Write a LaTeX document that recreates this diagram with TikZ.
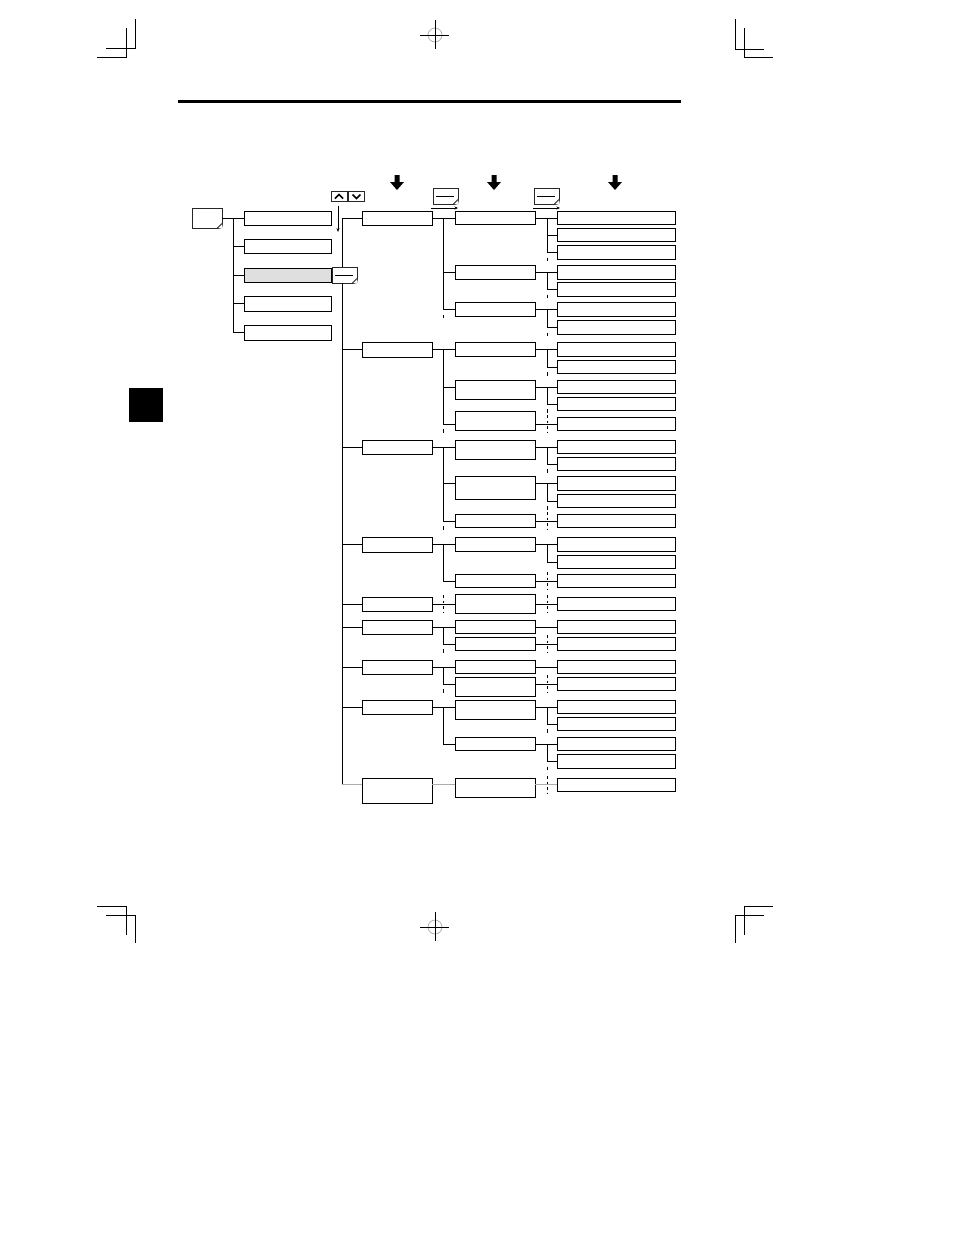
\documentclass[tikz,border=0pt]{standalone}
\usetikzlibrary{calc,arrows.meta}
\tikzset{
 bx/.style={draw, line width=1pt, fill=white, inner sep=0pt, outer sep=0pt},
 ln/.style={line width=1pt},
 tickln/.style={line width=1pt},
 keybox/.style={draw=black!85, line width=0.9pt, fill=white, inner sep=0pt, outer sep=0pt},
 crop/.style={line width=1pt},
}
\newcommand\Lbox[4][]{\node[bx,#1,minimum width=87pt,minimum height={#4pt-#3pt}] (#2) at (287.5,{(#3+#4)/2}) {};}
\newcommand\Abox[3]{\node[bx,minimum width=70pt,minimum height={#3pt-#2pt}] (#1) at (397,{(#2+#3)/2}) {};}
\newcommand\Bbox[3]{\node[bx,minimum width=80pt,minimum height={#3pt-#2pt-0.6pt}] (#1) at (495,{(#2+#3)/2}) {};}
\newcommand\Cbox[3]{\node[bx,minimum width=118pt,minimum height={#3pt-#2pt-1pt}] (#1) at (616,{(#2+#3)/2}) {};}
\newcommand\st[2]{\draw[ln] (#1) -- (#1 -| #2);}
\newcommand\br[3]{\draw[ln] (#1) -- (#2 |- #1) |- (#3);}
\newcommand\tk[2]{\draw[tickln] (#1 |- #2) ++(0,5) -- ++(0,3.5);}
\newcommand\tx[2]{\draw[tickln,dash pattern=on 2.5pt off 3pt] (#1 |- #2) ++(0,-9) -- ++(0,18);}
\newcommand\dogear[1]{\fill[white] ([xshift=-4.5pt]#1.south east) -- ([xshift=1pt,yshift=-1pt]#1.south east) -- ([yshift=4.5pt]#1.south east) -- cycle;
 \draw[black!85,line width=0.9pt] ([xshift=-4.5pt]#1.south east) -- ([yshift=4.5pt]#1.south east);}
\newcommand\bigarrow[1]{\fill (#1-2.5,175) -- (#1+2.5,175) -- (#1+2.5,182) -- (#1+7,182) -- (#1,190) -- (#1-7,182) -- (#1-2.5,182) -- cycle;}
\begin{document}
\begin{tikzpicture}[x=1pt,y=-1pt]
\useasboundingbox (0,0) rectangle (954,1235);
% crop marks
\draw[crop] (135,19) -- (135,48) -- (106,48);
\draw[crop] (126,28) -- (126,57) -- (97,57);
\draw[crop] (735,19) -- (735,49) -- (764,49);
\draw[crop] (744,28) -- (744,57) -- (773,57);
\draw[crop] (97,906) -- (126,906) -- (126,935);
\draw[crop] (106,915) -- (135,915) -- (135,943);
\draw[crop] (773,906) -- (744,906) -- (744,935);
\draw[crop] (764,915) -- (735,915) -- (735,943);
\draw[gray!60,line width=0.8pt] (435,35) circle (7);
\draw[crop] (420,35) -- (449,35) (435,20) -- (435,49);
\draw[gray!60,line width=0.8pt] (435,927) circle (7);
\draw[crop] (420,927) -- (449,927) (435,912) -- (435,941);
% top rule and side tab
\draw[line width=3pt] (178,101) -- (681,101);
\fill (129,388) rectangle (163,422);
% big arrows
\bigarrow{397}\bigarrow{494}\bigarrow{615}
% top enter keys
\node[keybox,minimum width=25pt,minimum height=16pt] (e1) at (445.5,196) {};
\draw[line width=0.9pt] ([xshift=3pt]e1.west) -- ([xshift=-4pt]e1.east);
\dogear{e1}
\node[keybox,minimum width=25pt,minimum height=16pt] (e2) at (546.5,196) {};
\draw[line width=0.9pt] ([xshift=3pt]e2.west) -- ([xshift=-4pt]e2.east);
\dogear{e2}
\draw[line width=0.7pt,-{Stealth[length=3.5pt,width=3pt]}] (e1.south west) ++(-2,4) -- ++(27,0);
\draw[line width=0.7pt,-{Stealth[length=3.5pt,width=3pt]}] (e2.south west) ++(-1,4) -- ++(27,0);
% up/down keys
\node[keybox,minimum width=16pt,minimum height=10pt] (ku) at (339,196.5) {};
\node[keybox,minimum width=16pt,minimum height=10pt] (kd) at (356.5,196.5) {};
\draw[line width=1.5pt] ([xshift=-4pt,yshift=-2pt]ku.center) -- ([yshift=2pt]ku.center) -- ([xshift=4pt,yshift=-2pt]ku.center);
\draw[line width=1.5pt] ([xshift=-4pt,yshift=2pt]kd.center) -- ([yshift=-2pt]kd.center) -- ([xshift=4pt,yshift=2pt]kd.center);
\coordinate (ar) at (338,232);
\draw[line width=0.8pt,-{Stealth[length=4pt,width=3pt]}] (ku.south -| ar) ++(0,4) -- (ar);
% level 1
\node[keybox,minimum width=30pt,minimum height=20pt] (mk) at (207,218) {};
\dogear{mk}
\Lbox{l1}{211}{225}
\Lbox{l2}{239}{253}
\Lbox[fill=gray!25]{l3}{268}{282}
\Lbox{l4}{296}{311}
\Lbox{l5}{325}{340}
\coordinate (t1) at (233,0);
\draw[ln] (mk.east) -- (t1 |- mk.east) -- (t1 |- l5.west) -- (l5.west);
\foreach \n in {l1,l2,l3,l4} \draw[ln] (t1 |- \n.west) -- (\n.west);
% enter key on trunk
\node[keybox,minimum width=25pt,minimum height=16pt] (ek) at (344.5,275) {};
\draw[line width=0.9pt] ([xshift=3pt]ek.west) -- ([xshift=-4pt]ek.east);
\dogear{ek}
\draw[ln] (l3.east) -- (ek.west);
\coordinate (tr) at (342,0);
\coordinate (vA) at (443,0);
\coordinate (vB) at (547,0);
\coordinate (g9y) at (0,784);
% ---------- group 1
\Abox{g1a}{211}{225}
\Bbox{g1b1}{211}{225}\Bbox{g1b2}{265}{280}\Bbox{g1b3}{302}{317}
\Cbox{g1c11}{211}{225}\Cbox{g1c12}{228}{242}\Cbox{g1c13}{245}{260}
\Cbox{g1c21}{265}{280}\Cbox{g1c22}{282}{297}
\Cbox{g1c31}{302}{317}\Cbox{g1c32}{320}{335}
\st{g1a.east}{g1b1.west}\br{g1a.east}{vA}{g1b2.west}\br{g1a.east}{vA}{g1b3.west}\tk{vA}{g1b3.west}
\st{g1b1.east}{g1c11.west}\br{g1b1.east}{vB}{g1c12.west}\br{g1b1.east}{vB}{g1c13.west}\tk{vB}{g1c13.west}
\st{g1b2.east}{g1c21.west}\br{g1b2.east}{vB}{g1c22.west}\tk{vB}{g1c22.west}
\st{g1b3.east}{g1c31.west}\br{g1b3.east}{vB}{g1c32.west}\tk{vB}{g1c32.west}
% ---------- group 2
\Abox{g2a}{342}{357}
\Bbox{g2b1}{342}{357}\Bbox{g2b2}{380}{400}\Bbox{g2b3}{411}{431}
\Cbox{g2c11}{342}{357}\Cbox{g2c12}{360}{374}
\Cbox{g2c21}{380}{394}\Cbox{g2c22}{397}{411}
\Cbox{g2c31}{417}{431}
\coordinate (g2b2i) at (g2b2.west |- g2c21.west);\coordinate (g2b2o) at (g2b2.east |- g2c21.west);
\coordinate (g2b3i) at (g2b3.west |- g2c31.west);\coordinate (g2b3o) at (g2b3.east |- g2c31.west);
\st{g2a.east}{g2b1.west}\br{g2a.east}{vA}{g2b2i}\br{g2a.east}{vA}{g2b3i}\tk{vA}{g2b3i}
\st{g2b1.east}{g2c11.west}\br{g2b1.east}{vB}{g2c12.west}\tk{vB}{g2c12.west}
\st{g2b2o}{g2c21.west}\br{g2b2o}{vB}{g2c22.west}\tk{vB}{g2c22.west}
\st{g2b3o}{g2c31.west}\tx{vB}{g2c31.west}
% ---------- group 3
\Abox{g3a}{440}{454}
\Bbox{g3b1}{440}{460}\Bbox{g3b2}{476}{500}\Bbox{g3b3}{514}{528}
\Cbox{g3c11}{440}{454}\Cbox{g3c12}{457}{471}
\Cbox{g3c21}{476}{491}\Cbox{g3c22}{494}{508}
\Cbox{g3c31}{514}{528}
\coordinate (g3b1i) at (g3b1.west |- g3c11.west);\coordinate (g3b1o) at (g3b1.east |- g3c11.west);
\coordinate (g3b2i) at (g3b2.west |- g3c21.west);\coordinate (g3b2o) at (g3b2.east |- g3c21.west);
\st{g3a.east}{g3b1i}\br{g3a.east}{vA}{g3b2i}\br{g3a.east}{vA}{g3b3.west}\tk{vA}{g3b3.west}
\st{g3b1o}{g3c11.west}\br{g3b1o}{vB}{g3c12.west}\tk{vB}{g3c12.west}
\st{g3b2o}{g3c21.west}\br{g3b2o}{vB}{g3c22.west}\tk{vB}{g3c22.west}
\st{g3b3.east}{g3c31.west}\tx{vB}{g3c31.west}
% ---------- group 4
\Abox{g4a}{537}{552}
\Bbox{g4b1}{537}{552}\Bbox{g4b2}{574}{588}
\Cbox{g4c11}{537}{552}\Cbox{g4c12}{555}{569}
\Cbox{g4c21}{574}{588}
\st{g4a.east}{g4b1.west}\br{g4a.east}{vA}{g4b2.west}
\st{g4b1.east}{g4c11.west}\br{g4b1.east}{vB}{g4c12.west}
\st{g4b2.east}{g4c21.west}\tx{vB}{g4c21.west}
% ---------- group 5
\Abox{g5a}{597}{611}
\Bbox{g5b1}{594}{614}
\Cbox{g5c11}{597}{611}
\st{g5a.east}{g5b1.west}\tx{vA}{g5b1.west}
\st{g5b1.east}{g5c11.west}\tx{vB}{g5c11.west}
% ---------- group 6
\Abox{g6a}{620}{634}
\Bbox{g6b1}{620}{634}\Bbox{g6b2}{637}{651}
\Cbox{g6c11}{620}{634}\Cbox{g6c21}{637}{651}
\st{g6a.east}{g6b1.west}\br{g6a.east}{vA}{g6b2.west}\tk{vA}{g6b2.west}
\st{g6b1.east}{g6c11.west}
\st{g6b2.east}{g6c21.west}\tx{vB}{g6c21.west}
% ---------- group 7
\Abox{g7a}{660}{674}
\Bbox{g7b1}{660}{674}\Bbox{g7b2}{677}{697}
\Cbox{g7c11}{660}{674}\Cbox{g7c21}{677}{691}
\coordinate (g7b2i) at (g7b2.west |- g7c21.west);\coordinate (g7b2o) at (g7b2.east |- g7c21.west);
\st{g7a.east}{g7b1.west}\br{g7a.east}{vA}{g7b2i}\tk{vA}{g7b2i}
\st{g7b1.east}{g7c11.west}
\st{g7b2o}{g7c21.west}\tx{vB}{g7c21.west}
% ---------- group 8
\Abox{g8a}{700}{714}
\Bbox{g8b1}{700}{720}\Bbox{g8b2}{737}{751}
\Cbox{g8c11}{700}{714}\Cbox{g8c12}{717}{731}
\Cbox{g8c21}{737}{751}\Cbox{g8c22}{754}{769}
\coordinate (g8b1i) at (g8b1.west |- g8c11.west);\coordinate (g8b1o) at (g8b1.east |- g8c11.west);
\st{g8a.east}{g8b1i}\br{g8a.east}{vA}{g8b2.west}
\st{g8b1o}{g8c11.west}\br{g8b1o}{vB}{g8c12.west}\tk{vB}{g8c12.west}
\st{g8b2.east}{g8c21.west}\br{g8b2.east}{vB}{g8c22.west}\tk{vB}{g8c22.west}
% ---------- group 9
\Abox{g9a}{778}{803}
\Bbox{g9b1}{778}{798}
\Cbox{g9c11}{778}{792}
\draw[ln,gray!65] (tr |- g9y) -- (g9a.west |- g9y);
\draw[ln,gray!65] (g9a.east |- g9y) -- (g9b1.west |- g9y);
\draw[ln,gray!65] (g9b1.east |- g9y) -- (g9c11.west |- g9y);
\draw[tickln,dash pattern=on 2.5pt off 3pt] (vB |- g9y) ++(0,-8) -- ++(0,17);
% trunk
\draw[ln] (tr |- g1a.west) -- (g1a.west);
\draw[ln] (tr |- g1a.west) -- (tr |- ek.north);
\draw[ln] (tr |- ek.south) -- (tr |- g9y);
\foreach \g in {g2a,g3a,g4a,g5a,g6a,g7a,g8a} \draw[ln] (tr |- \g.west) -- (\g.west);
\end{tikzpicture}
\end{document}
